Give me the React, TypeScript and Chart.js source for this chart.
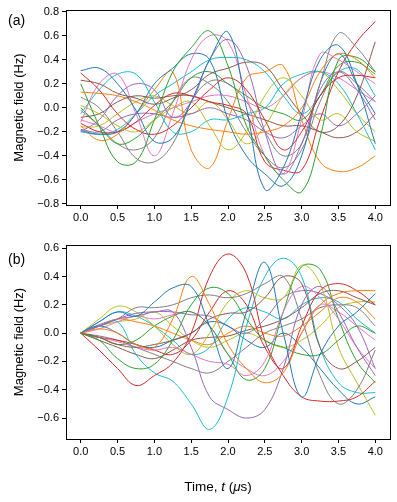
import React, { useEffect, useRef } from "react";
import { Chart, registerables } from "chart.js";

Chart.register(...registerables);

// ---------- data ----------
const TIMES = [0, 0.25, 0.5, 0.75, 1.0, 1.25, 1.5, 1.75, 2.0, 2.25, 2.5, 2.75, 3.0, 3.25, 3.5, 3.75, 4.0];
const X_TICKS = [0, 0.5, 1.0, 1.5, 2.0, 2.5, 3.0, 3.5, 4.0];
const Y_TICKS_A = [-0.8, -0.6, -0.4, -0.2, 0, 0.2, 0.4, 0.6, 0.8];
const Y_TICKS_B = [-0.6, -0.4, -0.2, 0, 0.2, 0.4, 0.6];
const COLORS = ["#1f77b4", "#ff7f0e", "#2ca02c", "#d62728", "#9467bd", "#8c564b", "#e377c2", "#7f7f7f", "#bcbd22", "#17becf"];

// panel (a)
const a00 = [0.31, 0.33, 0.2, -0.02, -0.28, -0.25, 0.05, 0.4, 0.63, 0.0, -0.68, -0.5, -0.05, 0.4, 0.52, 0.2, -0.3];
const a01 = [0.13, 0.12, 0.1, 0.05, -0.02, -0.1, -0.15, -0.18, -0.2, -0.22, -0.2, -0.15, 0.0, 0.3, 0.45, 0.4, 0.25];
const a02 = [0.2, -0.15, -0.45, -0.45, -0.1, 0.3, 0.5, 0.64, 0.35, -0.15, -0.4, -0.6, -0.7, -0.25, 0.4, 0.42, 0.3];
const a03 = [0.29, 0.15, -0.05, -0.18, -0.22, -0.15, 0.0, 0.15, 0.25, 0.15, -0.1, -0.35, -0.2, 0.1, 0.25, 0.27, 0.25];
const a04 = [-0.2, -0.1, 0.1, 0.2, 0.15, -0.08, 0.05, 0.4, 0.57, 0.35, -0.2, -0.55, -0.3, 0.15, 0.3, 0.15, -0.1];
const a05 = [0.23, 0.2, 0.12, 0.08, 0.03, 0.08, 0.15, 0.28, 0.33, 0.38, 0.35, 0.15, -0.05, -0.2, -0.15, 0.1, 0.55];
const a06 = [-0.12, 0.2, 0.28, -0.05, -0.4, -0.05, 0.4, 0.6, 0.55, 0.1, -0.4, -0.55, -0.1, 0.45, 0.4, 0.3, 0.2];
const a07 = [0.09, 0.0, -0.2, -0.42, -0.45, -0.3, 0.05, 0.22, 0.2, 0.05, -0.2, -0.4, -0.3, 0.2, 0.62, 0.5, 0.3];
const a08 = [0.02, -0.05, -0.15, -0.2, -0.1, 0.0, 0.05, -0.15, -0.35, -0.2, 0.1, 0.25, 0.1, -0.1, -0.05, -0.2, -0.28];
const a09 = [-0.05, 0.15, 0.28, 0.28, 0.05, -0.2, -0.2, -0.1, -0.1, -0.05, 0.0, 0.2, 0.28, 0.3, 0.2, -0.05, -0.35];
const a10 = [-0.19, -0.22, -0.2, -0.05, 0.2, 0.33, 0.45, 0.4, -0.1, -0.4, -0.55, -0.65, -0.4, 0.2, 0.45, 0.2, -0.05];
const a11 = [-0.15, -0.27, -0.22, -0.05, 0.15, 0.3, -0.35, -0.5, -0.1, 0.25, 0.3, 0.35, -0.1, -0.45, -0.53, -0.5, -0.4];
const a12 = [0.0, -0.15, -0.3, -0.25, -0.1, 0.05, 0.25, 0.3, 0.2, 0.1, 0.0, -0.05, -0.1, 0.1, 0.35, 0.38, 0.28];
const a13 = [-0.13, -0.2, -0.2, -0.12, 0.02, 0.12, 0.1, 0.05, 0.02, -0.05, -0.45, -0.52, -0.52, -0.1, 0.3, 0.55, 0.72];
const a14 = [-0.18, -0.2, -0.1, -0.05, -0.05, -0.08, -0.05, 0.0, -0.05, -0.1, -0.2, -0.25, -0.15, -0.05, -0.15, -0.05, 0.1];
const a15 = [-0.08, -0.05, 0.05, 0.1, 0.08, 0.1, 0.1, 0.05, 0.0, -0.05, -0.1, -0.15, -0.15, -0.2, -0.25, -0.2, -0.05];
const a16 = [-0.1, -0.15, -0.2, -0.12, -0.05, 0.0, 0.05, 0.1, 0.1, 0.05, 0.0, 0.1, 0.25, 0.3, 0.25, 0.15, 0.05];
const a17 = [-0.02, -0.15, -0.3, -0.35, -0.25, 0.05, 0.25, 0.2, 0.05, -0.2, -0.4, -0.5, -0.35, 0.05, 0.3, 0.2, 0.05];
const a18 = [-0.16, -0.15, -0.05, 0.05, 0.1, 0.02, -0.05, 0.05, -0.1, -0.3, -0.15, 0.1, 0.25, 0.3, 0.15, -0.05, -0.2];
const a19 = [-0.2, -0.22, -0.18, -0.05, 0.1, 0.2, 0.3, 0.4, 0.42, 0.4, 0.3, 0.1, -0.05, 0.1, 0.3, 0.32, 0.1];

// panel (b)
const b00 = [0, 0.08, 0.15, 0.12, 0.22, 0.32, 0.33, 0.05, -0.25, 0.15, 0.5, 0.0, -0.45, -0.15, 0.05, 0.15, 0.28];
const b01 = [0, 0.03, 0.0, -0.08, -0.1, 0.1, 0.4, 0.2, -0.08, -0.25, -0.35, -0.28, 0.0, 0.2, 0.28, 0.3, 0.3];
const b02 = [0, -0.05, -0.18, -0.25, -0.22, -0.05, 0.2, 0.32, 0.28, 0.1, -0.05, -0.1, -0.15, -0.15, -0.05, 0.05, 0.0];
const b03 = [0, -0.12, -0.25, -0.37, -0.3, -0.21, 0.0, 0.4, 0.56, 0.42, -0.05, -0.3, -0.45, -0.48, -0.48, -0.45, -0.34];
const b04 = [0, 0.05, 0.1, 0.14, 0.15, 0.15, -0.1, -0.45, -0.54, -0.6, -0.54, -0.25, 0.2, 0.33, 0.15, -0.1, -0.3];
const b05 = [0, -0.03, -0.08, -0.1, -0.08, -0.05, 0.0, 0.1, 0.14, 0.15, 0.25, 0.4, 0.35, -0.1, -0.25, -0.2, -0.1];
const b06 = [0, -0.03, -0.06, -0.1, -0.12, -0.1, -0.15, -0.2, -0.22, -0.3, -0.2, 0.15, 0.33, 0.25, 0.1, -0.1, -0.25];
const b07 = [0, 0.05, 0.1, 0.18, 0.18, 0.2, 0.25, 0.27, 0.25, 0.28, 0.35, 0.4, 0.1, -0.3, -0.5, -0.4, -0.12];
const b08 = [0, 0.1, 0.19, 0.15, 0.05, -0.08, -0.15, 0.0, 0.22, 0.3, 0.25, 0.25, 0.48, 0.35, -0.1, -0.35, -0.58];
const b09 = [0, 0.05, 0.08, -0.15, -0.28, -0.34, -0.5, -0.68, -0.45, 0.05, 0.4, 0.53, 0.4, -0.1, -0.35, -0.42, -0.42];
const b10 = [0, 0.05, 0.0, -0.08, -0.1, -0.05, 0.0, 0.08, 0.05, -0.05, -0.1, 0.0, -0.1, -0.25, -0.4, -0.5, -0.45];
const b11 = [0, 0.05, 0.1, 0.08, 0.05, 0.0, -0.05, -0.08, 0.0, 0.05, 0.0, -0.02, 0.05, 0.15, 0.25, 0.22, 0.1];
const b12 = [0, -0.03, -0.08, -0.05, 0.05, 0.12, 0.15, 0.05, -0.15, -0.33, -0.25, 0.15, 0.47, 0.45, 0.1, -0.2, -0.35];
const b13 = [0, -0.03, -0.05, -0.08, -0.12, -0.15, -0.05, 0.15, 0.3, 0.2, -0.1, -0.25, 0.05, 0.3, 0.35, 0.3, 0.2];
const b14 = [0, 0.06, 0.1, 0.12, 0.15, 0.15, 0.13, 0.12, 0.05, 0.0, 0.1, 0.25, 0.3, 0.28, 0.2, 0.05, -0.25];
const b15 = [0, -0.05, -0.1, -0.15, -0.18, -0.12, -0.05, -0.03, -0.02, 0.02, 0.05, 0.1, 0.18, 0.28, 0.3, 0.25, 0.2];
const b16 = [0, 0.03, 0.08, 0.12, 0.1, 0.13, 0.15, 0.05, -0.15, -0.25, -0.3, -0.2, 0.0, 0.2, 0.15, 0.05, -0.05];
const b17 = [0, -0.02, -0.05, -0.1, -0.15, -0.2, -0.25, -0.28, -0.2, -0.1, 0.0, 0.05, 0.1, 0.18, 0.2, 0.18, 0.05];
const b18 = [0, 0.05, 0.08, 0.1, 0.15, 0.05, -0.05, -0.1, -0.05, 0.0, -0.05, -0.1, -0.05, 0.05, 0.18, 0.22, 0.22];
const b19 = [0, 0.08, 0.15, 0.12, 0.05, -0.05, -0.15, -0.1, 0.1, 0.18, 0.15, 0.1, 0.2, 0.25, 0.22, 0.1, 0.0];

const SERIES_A = [a00, a01, a02, a03, a04, a05, a06, a07, a08, a09, a10, a11, a12, a13, a14, a15, a16, a17, a18, a19];
const SERIES_B = [b00, b01, b02, b03, b04, b05, b06, b07, b08, b09, b10, b11, b12, b13, b14, b15, b16, b17, b18, b19];

const FONT = "'Liberation Sans', Arial, sans-serif";

const framePlugin = {
  id: "frame",
  afterDraw(chart: any) {
    const { ctx, chartArea } = chart;
    const { left, top, right, bottom } = chartArea;
    ctx.save();
    ctx.strokeStyle = "#000";
    ctx.lineWidth = 1;
    ctx.strokeRect(Math.round(left) + 0.5, Math.round(top) + 0.5, Math.round(right - left), Math.round(bottom - top));
    ctx.restore();
  },
};

function fmt(v: number) {
  const s = Math.abs(v).toFixed(1);
  return v < -1e-9 ? "\u2212" + s : s;
}

function makeConfig(series: number[][], yMin: number, yMax: number, yTicks: number[], padTop: number, xHeight: number) {
  return {
    type: "line" as const,
    data: {
      datasets: series.map((s, i) => ({
        data: s.map((v, j) => ({ x: TIMES[j], y: v })),
        borderColor: COLORS[i % 10],
        borderWidth: 1,
        pointRadius: 0,
        tension: 0.4,
        fill: false,
      })),
    },
    options: {
      animation: false as const,
      responsive: false,
      devicePixelRatio: 1,
      layout: { padding: { left: 0, right: 7, top: padTop, bottom: 0 } },
      plugins: { legend: { display: false }, tooltip: { enabled: false } },
      scales: {
        x: {
          type: "linear" as const,
          min: -0.2,
          max: 4.2,
          afterBuildTicks: (axis: any) => {
            axis.ticks = X_TICKS.map((v) => ({ value: v }));
          },
          afterFit: (s: any) => {
            s.height = xHeight;
          },
          ticks: { callback: (v: any) => fmt(Number(v)), color: "#000", font: { family: FONT, size: 11 }, padding: 2, maxRotation: 0 },
          grid: { drawOnChartArea: false, drawTicks: true, tickLength: 4, color: "#000" },
          border: { display: false },
        },
        y: {
          type: "linear" as const,
          min: yMin,
          max: yMax,
          afterBuildTicks: (axis: any) => {
            axis.ticks = yTicks.map((v) => ({ value: v }));
          },
          afterFit: (s: any) => {
            s.width = 66;
          },
          ticks: { callback: (v: any) => fmt(Number(v)), color: "#000", font: { family: FONT, size: 11 }, padding: 3 },
          grid: { drawOnChartArea: false, drawTicks: true, tickLength: 4, color: "#000" },
          border: { display: false },
          title: { display: true, text: "Magnetic field (Hz)", color: "#000", font: { family: FONT, size: 13 }, padding: { top: 12, bottom: 0 } },
        },
      },
    },
    plugins: [framePlugin],
  };
}

function Panel(props: { series: number[][]; yMin: number; yMax: number; yTicks: number[]; padTop: number; xHeight: number; top: number; height: number }) {
  const ref = useRef<HTMLCanvasElement | null>(null);
  useEffect(() => {
    if (!ref.current) return;
    const chart = new Chart(ref.current, makeConfig(props.series, props.yMin, props.yMax, props.yTicks, props.padTop, props.xHeight) as any);
    return () => chart.destroy();
  }, []);
  return <canvas ref={ref} width={397} height={props.height} style={{ position: "absolute", left: 0, top: props.top, width: 397, height: props.height }} />;
}

export default function App() {
  return (
    <div style={{ position: "fixed", left: 0, top: 0, width: 397, height: 502, background: "#fff", overflow: "hidden", fontFamily: FONT }}>
      <Panel series={SERIES_A} yMin={-0.81} yMax={0.815} yTicks={Y_TICKS_A} padTop={10} xHeight={20} top={0} height={225} />
      <Panel series={SERIES_B} yMin={-0.748} yMax={0.623} yTicks={Y_TICKS_B} padTop={20} xHeight={63} top={225} height={277} />
      <div style={{ position: "absolute", left: 8, top: 12, fontSize: 14, color: "#000" }}>(a)</div>
      <div style={{ position: "absolute", left: 8, top: 251, fontSize: 14, color: "#000" }}>(b)</div>
      <div style={{ position: "absolute", left: 56, width: 324, top: 479, textAlign: "center", fontSize: 13.5, color: "#000" }}>
        Time, <i>t</i> (<i>μ</i>s)
      </div>
    </div>
  );
}
